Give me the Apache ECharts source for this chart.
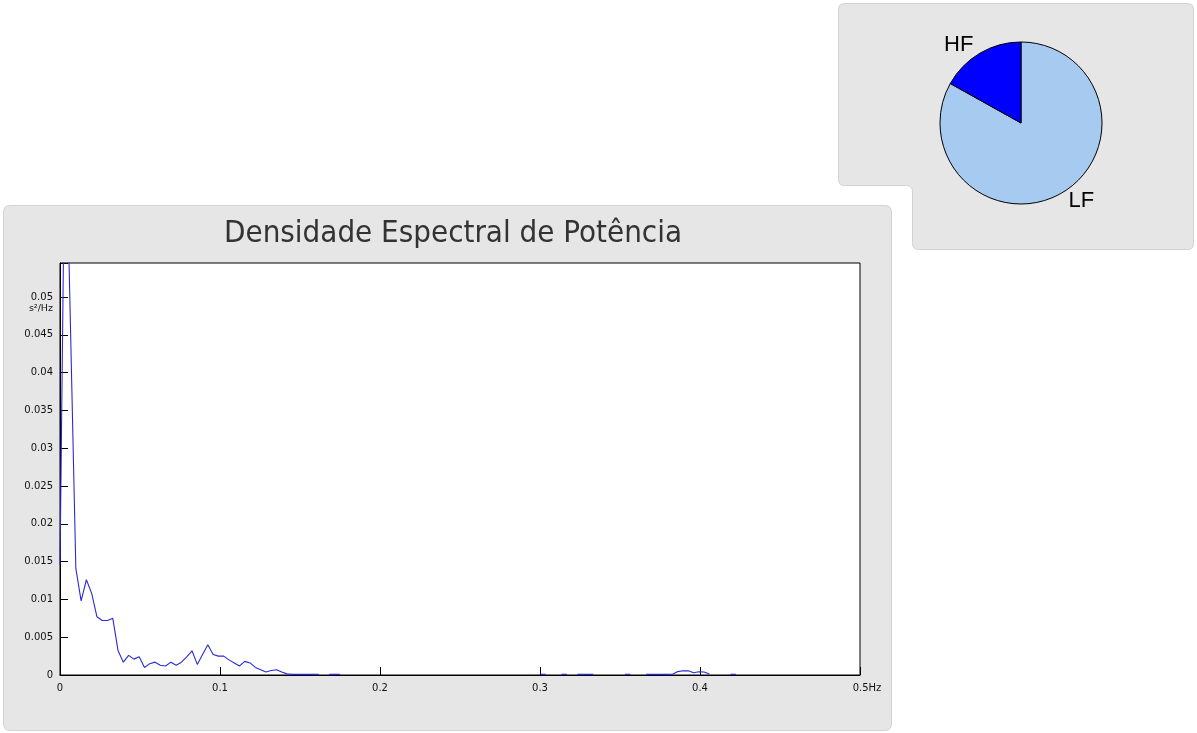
<!DOCTYPE html>
<html>
<head>
<meta charset="utf-8">
<script src="https://cdn.jsdelivr.net/npm/echarts@6/dist/echarts.min.js"></script>
<style>
html,body{margin:0;padding:0;background:#fff;}
#wrap{position:relative;width:1197px;height:733px;}
#bg{position:absolute;left:0;top:0;}
#c{position:absolute;left:0;top:0;width:1197px;height:733px;}
</style>
</head>
<body>
<div id="wrap">
<svg id="bg" width="1197" height="733" xmlns="http://www.w3.org/2000/svg">
  <rect x="3.5" y="205.5" width="888" height="525" rx="6" ry="6" fill="#e6e6e6" stroke="#d2d2d2" stroke-width="1"/>
  <path d="M 844.5 3.5 H 1187.5 Q 1193.5 3.5 1193.5 9.5 V 243.5 Q 1193.5 249.5 1187.5 249.5 H 918.5 Q 912.5 249.5 912.5 243.5 V 191.5 Q 912.5 185.5 906.5 185.5 H 844.5 Q 838.5 185.5 838.5 179.5 V 9.5 Q 838.5 3.5 844.5 3.5 Z" fill="#e6e6e6" stroke="#d2d2d2" stroke-width="1"/>
</svg>
<div id="c"></div>
</div>
<script>
// ---- data ----
var titleText = 'Densidade Espectral de Potência';
var yUnit = 's²/Hz';
var xTickLabels = ['0', '0.1', '0.2', '0.3', '0.4', '0.5Hz'];
// frequencies (Hz); null values break the line
var freqHz = [
  0, 0.0033, 0.0066, 0.0099, 0.0132, 0.0165, 0.0198, 0.0231, 0.0264, 0.0297,
  0.0330, 0.0363, 0.0396, 0.0429, 0.0462, 0.0495, 0.0528, 0.0561, 0.0594, 0.0627,
  0.0660, 0.0693, 0.0726, 0.0759, 0.0792, 0.0825, 0.0858, 0.0891, 0.0924, 0.0957,
  0.0990, 0.1023, 0.1056, 0.1089, 0.1122, 0.1155, 0.1188, 0.1221, 0.1254, 0.1287,
  0.1320, 0.1353, 0.1386, 0.1419, 0.1452, 0.1485, 0.1518, 0.1551, 0.1584, 0.1617,
  0.1650,
  0.1683, 0.1716, 0.1749,
  0.2000,
  0.3003, 0.3036,
  0.3080,
  0.3135, 0.3168,
  0.3200,
  0.3234, 0.3267, 0.3300, 0.3333,
  0.3450,
  0.3531, 0.3564,
  0.3600,
  0.3663, 0.3696, 0.3729, 0.3762, 0.3795, 0.3828, 0.3861, 0.3894, 0.3927, 0.3960,
  0.3993, 0.4026, 0.4059,
  0.4120,
  0.4191, 0.4224
];
var psd = [
  0.0146, 0.0770, 0.0455, 0.0141, 0.0098, 0.0126, 0.0108, 0.0077, 0.0072, 0.0072,
  0.0075, 0.0032, 0.0017, 0.0026, 0.0021, 0.0024, 0.0010, 0.0015, 0.0017, 0.0013,
  0.0012, 0.0017, 0.0013, 0.0017, 0.0024, 0.0032, 0.0014, 0.0027, 0.0040, 0.0027,
  0.0025, 0.0025, 0.0020, 0.0016, 0.0012, 0.0018, 0.0016, 0.0010, 0.0007, 0.0004,
  0.0006, 0.0007, 0.0004, 0.00015, 0.00008, 0.00008, 0.00008, 0.00008, 0.00008, 0.00008,
  null,
  0.00008, 0.00008, 0.00008,
  null,
  0.00008, 0.00008,
  null,
  0.00008, 0.00008,
  null,
  0.00008, 0.00008, 0.00008, 0.00008,
  null,
  0.00008, 0.00008,
  null,
  0.00008, 0.00008, 0.00008, 0.00008, 0.00008, 0.00010, 0.00045, 0.00057, 0.00055, 0.00030,
  0.00042, 0.00040, 0.00012,
  null,
  0.00008, 0.00008
];
var bandNames = ['LF', 'HF'];
var bandShares = [83.1, 16.9];
var bandColors = ['#a6caf0', '#0000ff'];

// ---- chart ----
var chart = echarts.init(document.getElementById('c'), null, {renderer: 'canvas'});
var lineData = freqHz.map(function (f, i) { return [f, psd[i]]; });
var labelFont = 'DejaVu Sans';

var option = {
  animation: false,
  backgroundColor: 'transparent',
  title: {
    text: titleText,
    left: 448, top: 213, textAlign: 'center',
    textStyle: {
      color: '#333', fontWeight: 'normal', fontSize: 31,
      fontFamily: '"DejaVu Sans Condensed", "DejaVu Sans"'
    }
  },
  grid: {
    left: 60, top: 263, width: 800, height: 412,
    show: true, backgroundColor: '#fff', borderColor: '#000', borderWidth: 1
  },
  xAxis: {
    type: 'value', min: 0, max: 0.5, interval: 0.1,
    axisLine: {show: true, lineStyle: {color: '#000', width: 1}},
    axisTick: {show: true, inside: true, length: 8, lineStyle: {color: '#000'}},
    splitLine: {show: false},
    axisLabel: {
      margin: 8, color: '#111', fontFamily: labelFont, fontSize: 10,
      formatter: function (v) {
        var idx = Math.round(v / 0.1);
        if (idx === 5) { return '{p|}' + xTickLabels[5]; }
        return xTickLabels[idx] || '';
      },
      rich: {p: {width: 14}}
    }
  },
  yAxis: {
    type: 'value', min: 0, max: 0.0545, interval: 0.005,
    name: yUnit, nameLocation: 'end', nameGap: -46,
    nameTextStyle: {
      color: '#111', fontFamily: labelFont, fontSize: 9.5,
      align: 'right', verticalAlign: 'middle', padding: [0, 7, 0, 0]
    },
    axisLine: {show: true, lineStyle: {color: '#000', width: 1}},
    axisTick: {show: true, inside: true, length: 8, lineStyle: {color: '#000'}},
    splitLine: {show: false},
    axisLabel: {
      margin: 7, color: '#111', fontFamily: labelFont, fontSize: 10,
      formatter: function (v) {
        if (v > 0.0502) { return ''; }
        return String(parseFloat(v.toFixed(4)));
      }
    }
  },
  series: [
    {
      type: 'line', data: lineData, showSymbol: false, symbol: 'none',
      connectNulls: false, clip: true, silent: true,
      lineStyle: {color: '#2a2ad6', width: 1.1},
      z: 3
    },
    {
      type: 'pie', center: [1021, 123], radius: 81,
      startAngle: 90, clockwise: true, silent: true,
      avoidLabelOverlap: false,
      data: bandNames.map(function (n, i) {
        return {name: n, value: bandShares[i], itemStyle: {color: bandColors[i]}};
      }),
      itemStyle: {borderColor: '#000', borderWidth: 1},
      label: {
        show: true, position: 'outside', formatter: '{b}',
        color: '#000', fontFamily: 'Liberation Sans', fontSize: 22,
        distanceToLabelLine: 2
      },
      labelLine: {show: false, length: 9, length2: 0},
      emphasis: {disabled: true}
    }
  ]
};
chart.setOption(option);
</script>
</body>
</html>
